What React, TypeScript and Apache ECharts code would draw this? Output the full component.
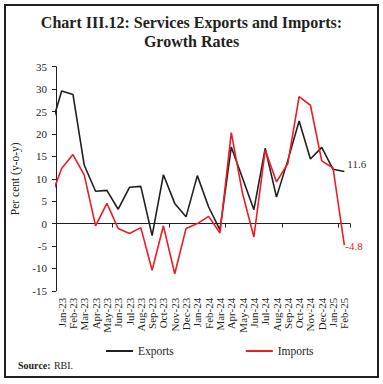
import React, { useEffect, useRef } from "react";
import * as echarts from "echarts";

const categories = [
  "Jan-23", "Feb-23", "Mar-23", "Apr-23", "May-23", "Jun-23", "Jul-23", "Aug-23", "Sep-23", "Oct-23", "Nov-23", "Dec-23",
  "Jan-24", "Feb-24", "Mar-24", "Apr-24", "May-24", "Jun-24", "Jul-24", "Aug-24", "Sep-24", "Oct-24", "Nov-24", "Dec-24",
  "Jan-25", "Feb-25",
];

const exportsGrowth = [
  29.6, 28.8, 13.0, 7.2, 7.4, 3.2, 8.1, 8.3, -2.7, 10.9, 4.5, 1.5,
  10.7, 3.7, -1.4, 17.1, 10.1, 3.1, 16.8, 5.9, 14.1, 22.9, 14.4, 17.0,
  12.1, 11.6,
];

const importsGrowth = [
  12.3, 15.4, 10.8, -0.5, 4.5, -1.1, -2.2, -0.9, -10.4, -0.5, -11.2, -1.1,
  0.0, 1.6, -2.1, 20.3, 6.7, -3.0, 16.4, 9.3, 13.4, 28.3, 26.4, 14.0,
  12.4, -4.8,
];

// Previous month (Dec-22), only its segment into the plot is visible
const prevExports = 21.0;
const prevImports = 5.5;

const yTicks = { min: -15, max: 35, interval: 5 };

const FONT = "Liberation Serif";
const INK = "#231f20";
const RED = "#ed1c24";

function toPoints(prev: number, values: number[]) {
  return [[-1, prev], ...values.map((v, i) => [i, v])];
}

export default function App() {
  const ref = useRef<HTMLDivElement>(null);

  useEffect(() => {
    if (!ref.current) return;
    const chart = echarts.init(ref.current, undefined, { renderer: "svg" });
    chart.setOption({
      animation: false,
      backgroundColor: "#ffffff",
      grid: { left: 56, right: 33, top: 66.7, bottom: 93.2, containLabel: false },
      xAxis: [
        {
          type: "category",
          data: categories,
          position: "bottom",
          boundaryGap: true,
          axisLine: { onZero: true, onZeroAxisIndex: 0, lineStyle: { color: INK, width: 1 } },
          axisTick: { show: true, length: 4, lineStyle: { color: INK } },
          axisLabel: { show: false },
          splitLine: { show: false },
        },
        {
          type: "category",
          data: categories,
          position: "bottom",
          boundaryGap: true,
          axisLine: { show: false, onZero: false },
          axisTick: { show: false },
          axisLabel: { rotate: 90, margin: 7, fontSize: 11, fontFamily: FONT, color: INK, interval: 0 },
          splitLine: { show: false },
        },
        {
          type: "value",
          position: "top",
          min: -0.5,
          max: 25.5,
          show: false,
          axisLine: { onZero: false },
          splitLine: { show: false },
        },
      ],
      yAxis: {
        type: "value",
        position: "left",
        min: yTicks.min,
        max: yTicks.max,
        interval: yTicks.interval,
        name: "Per cent (y-o-y)",
        nameLocation: "middle",
        nameGap: 29,
        nameRotate: 90,
        nameTextStyle: { fontSize: 11.5, fontFamily: FONT, color: INK },
        axisLine: { show: true, onZero: false, lineStyle: { color: INK, width: 1 } },
        axisTick: { show: true, length: 4, lineStyle: { color: INK } },
        axisLabel: { fontSize: 11, fontFamily: FONT, color: INK, margin: 9 },
        splitLine: { show: false },
      },
      legend: {
        data: ["Exports", "Imports"],
        left: 101,
        top: 340,
        icon: "rect",
        itemWidth: 27,
        itemHeight: 2,
        itemGap: 72,
        itemTextGap: 3,
        textStyle: { fontSize: 11.5, fontFamily: FONT, color: INK },
      },
      series: [
        {
          name: "Exports",
          type: "line",
          xAxisIndex: 2,
          yAxisIndex: 0,
          data: toPoints(prevExports, exportsGrowth),
          symbol: "none",
          showSymbol: false,
          clip: true,
          lineStyle: { color: INK, width: 1.6 },
          itemStyle: { color: INK },
          endLabel: {
            show: true,
            formatter: (p: any) => String(p.value[1]),
            fontSize: 11,
            fontFamily: FONT,
            color: "#333333",
            distance: 3,
            offset: [0, -8],
          },
          z: 3,
        },
        {
          name: "Imports",
          type: "line",
          xAxisIndex: 2,
          yAxisIndex: 0,
          data: toPoints(prevImports, importsGrowth),
          symbol: "none",
          showSymbol: false,
          clip: true,
          lineStyle: { color: RED, width: 1.6 },
          itemStyle: { color: RED },
          endLabel: {
            show: true,
            formatter: (p: any) => String(p.value[1]),
            fontSize: 11,
            fontFamily: FONT,
            color: RED,
            distance: 1,
            offset: [0, 1],
          },
          z: 4,
        },
      ],
      graphic: [
        {
          type: "rect",
          shape: { x: 5, y: 5, width: 373, height: 372 },
          style: { fill: "none", stroke: INK, lineWidth: 2 },
          silent: true,
        },
        {
          type: "text",
          x: 191.5,
          y: 22.4,
          style: {
            text: "Chart III.12: Services Exports and Imports:",
            font: `bold 16px "${FONT}"`,
            fill: INK,
            textAlign: "center",
            textVerticalAlign: "middle",
          },
        },
        {
          type: "text",
          x: 191.5,
          y: 41.6,
          style: {
            text: "Growth Rates",
            font: `bold 16px "${FONT}"`,
            fill: INK,
            textAlign: "center",
            textVerticalAlign: "middle",
          },
        },
        {
          type: "text",
          x: 18,
          y: 365,
          style: {
            text: "{b|Source:} {n|RBI.}",
            rich: {
              b: { fontWeight: "bold", fontSize: 10, fontFamily: FONT, fill: INK },
              n: { fontSize: 10, fontFamily: FONT, fill: INK },
            },
            textVerticalAlign: "middle",
          },
        },
      ],
    });
    return () => chart.dispose();
  }, []);

  return (
    <div
      ref={ref}
      style={{ position: "fixed", left: 0, top: 0, width: 383, height: 384, background: "#fff" }}
    />
  );
}
